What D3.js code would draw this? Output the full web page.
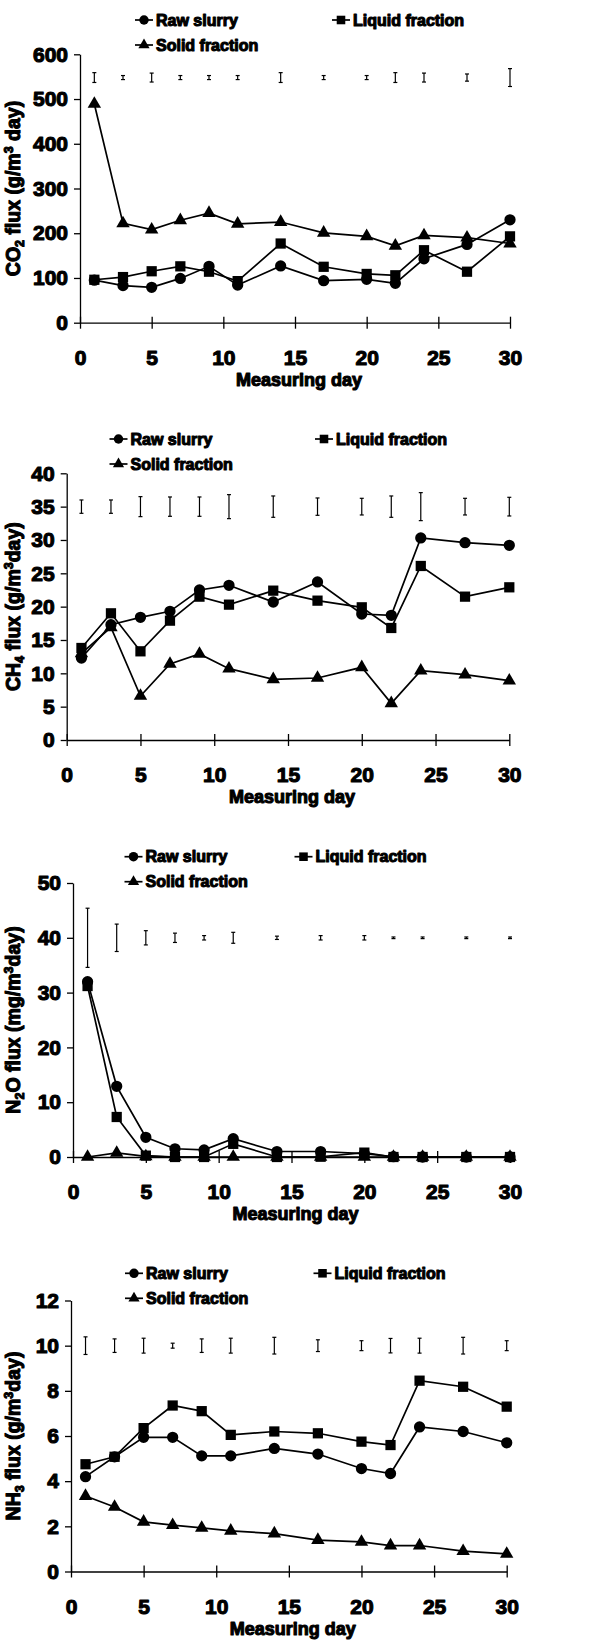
<!DOCTYPE html>
<html>
<head>
<meta charset="utf-8">
<script src="https://cdn.jsdelivr.net/npm/d3@7"></script>
<style>
body { margin: 0; background: #fff; }
text { font-family: "Liberation Sans", Arial, sans-serif; font-weight: bold; fill: #000; stroke: #000; stroke-width: 1.1; stroke-linejoin: round; }
</style>
</head>
<body>
<div id="chart"></div>
<script>
// measuring days and legend names
const days = [1, 3, 5, 7, 9, 11, 14, 17, 20, 22, 24, 27, 30];
const seriesNames = ["Raw slurry", "Liquid fraction", "Solid fraction"];
const xTicks = [0, 5, 10, 15, 20, 25, 30];

// CO2 flux (g/m3 day)
const co2Raw    = [95, 83, 79, 99, 126, 84, 127, 94, 97, 88, 143, 175, 230];
const co2Liquid = [96, 102, 115, 126, 114, 93, 177, 125, 109, 106, 162, 114, 193];
const co2Solid  = [489, 222, 208, 229, 245, 221, 225, 201, 193, 172, 195, 190, 177];
const co2ErrMid = 548;
const co2Err    = [11, 4.5, 10, 4.5, 4.5, 4.5, 11, 4.5, 4.5, 11, 10, 8, 20];
const co2Ticks  = [0, 100, 200, 300, 400, 500, 600];

// CH4 flux (g/m3 day)
const ch4Raw    = [12.3, 17.3, 18.4, 19.3, 22.5, 23.2, 20.7, 23.7, 18.9, 18.7, 30.3, 29.6, 29.2];
const ch4Liquid = [13.8, 19.0, 13.3, 17.9, 21.5, 20.3, 22.4, 20.9, 19.9, 16.8, 26.1, 21.5, 22.9];
const ch4Solid  = [13.0, 16.9, 6.6, 11.4, 12.9, 10.7, 9.1, 9.3, 10.9, 5.5, 10.4, 9.8, 8.9];
const ch4ErrMid = 35;
const ch4Err    = [1.0, 1.0, 1.5, 1.45, 1.45, 1.8, 1.6, 1.3, 1.25, 1.6, 2.1, 1.25, 1.4];
const ch4Ticks  = [0, 5, 10, 15, 20, 25, 30, 35, 40];

// N2O flux (mg/m3 day)
const n2oRaw    = [32, 12.9, 3.6, 1.5, 1.3, 3.35, 1.0, 1.0, 0.6, 0.05, 0, 0, 0];
const n2oLiquid = [31.2, 7.3, 0.25, 0, 0, 2.4, 0, 0.05, 0.8, 0, 0, 0, 0];
const n2oSolid  = [0, 0.75, 0.1, 0, 0, 0, 0, 0, 0, 0, 0, 0, 0];
const n2oErrMid = 40;
const n2oErr    = [5.4, 2.5, 1.3, 0.85, 0.4, 1.0, 0.3, 0.4, 0.4, 0.15, 0.15, 0.15, 0.15];
const n2oTicks  = [0, 10, 20, 30, 40, 50];

// NH3 flux (g/m3 day)
const nh3Raw    = [4.2, 5.08, 5.94, 5.94, 5.12, 5.12, 5.45, 5.2, 4.56, 4.34, 6.4, 6.2, 5.7];
const nh3Liquid = [4.75, 5.08, 6.35, 7.35, 7.1, 6.05, 6.2, 6.12, 5.75, 5.6, 8.45, 8.18, 7.3];
const nh3Solid  = [3.34, 2.86, 2.2, 2.05, 1.93, 1.8, 1.68, 1.39, 1.31, 1.15, 1.15, 0.9, 0.78];
const nh3ErrMid = 10;
const nh3Err    = [0.39, 0.3, 0.33, 0.11, 0.3, 0.33, 0.37, 0.26, 0.22, 0.32, 0.33, 0.37, 0.22];
const nh3Ticks  = [0, 2, 4, 6, 8, 10, 12];

// layout of each panel (pixels)
const panels = [
  { series: [co2Raw, co2Liquid, co2Solid], err: co2Err, errMid: co2ErrMid, ticks: co2Ticks,
    label: [["CO", 0], ["2", 1], [" flux (g/m", 0], ["3", -1], [" day)", 0]],
    top: 54.3, bottom: 322.7, left: 80, right: 510, legY: 20, legX: [144, 341] },
  { series: [ch4Raw, ch4Liquid, ch4Solid], err: ch4Err, errMid: ch4ErrMid, ticks: ch4Ticks,
    label: [["CH", 0], ["4", 1], [" flux (g/m", 0], ["3", -1], ["day)", 0]],
    top: 473.3, bottom: 740, left: 66.7, right: 509.3, legY: 439, legX: [118.5, 324] },
  { series: [n2oRaw, n2oLiquid, n2oSolid], err: n2oErr, errMid: n2oErrMid, ticks: n2oTicks,
    label: [["N", 0], ["2", 1], ["O flux (mg/m", 0], ["3", -1], ["day)", 0]],
    top: 883, bottom: 1157, left: 73, right: 510, legY: 856.7, legX: [133.5, 303.5] },
  { series: [nh3Raw, nh3Liquid, nh3Solid], err: nh3Err, errMid: nh3ErrMid, ticks: nh3Ticks,
    label: [["NH", 0], ["3", 1], [" flux (g/m", 0], ["3", -1], ["day)", 0]],
    top: 1300.5, bottom: 1571.5, left: 71, right: 506.7, legY: 1273.3, legX: [134, 322.5] }
];

const symbols = [d3.symbolCircle, d3.symbolSquare, d3.symbolTriangle];
const symSize = [100, 105, 78];

const svg = d3.select("#chart").append("svg")
  .attr("width", 610)
  .attr("height", 1642);

panels.forEach(p => {
  const yMax = p.ticks[p.ticks.length - 1];
  const x = d3.scaleLinear().domain([0, 30]).range([p.left, p.right]);
  const y = d3.scaleLinear().domain([0, yMax]).range([p.bottom, p.top]);
  const g = svg.append("g");

  // y axis
  const ya = g.append("g")
    .attr("transform", `translate(${p.left},0)`)
    .call(d3.axisLeft(y).tickValues(p.ticks).tickSize(6).tickSizeOuter(0).tickPadding(6));
  ya.selectAll("text").attr("font-size", 21).attr("font-family", null).attr("fill", null);

  // x axis with crossing ticks, labels set low
  const xa = g.append("g")
    .attr("transform", `translate(0,${p.bottom})`)
    .call(d3.axisBottom(x).tickValues(xTicks).tickSize(6).tickSizeOuter(0));
  xa.selectAll(".tick line").attr("y1", -6).attr("y2", 6);
  xa.selectAll("text").attr("font-size", 21).attr("font-family", null).attr("fill", null)
    .attr("y", 35).attr("dy", "0.35em");
  g.selectAll(".domain, .tick line").attr("stroke", "#000").attr("stroke-width", 1.3);

  g.append("text")
    .attr("x", (p.left + p.right) / 2 + 4)
    .attr("y", p.bottom + 57)
    .attr("dy", "0.35em")
    .attr("text-anchor", "middle")
    .attr("font-size", 18)
    .text("Measuring day");

  // y axis title
  const yt = g.append("text")
    .attr("transform", `translate(20,${(p.top + p.bottom) / 2}) rotate(-90)`)
    .attr("text-anchor", "middle")
    .attr("dy", "0.35em")
    .attr("font-size", 19.5);
  let shift = 0;
  p.label.forEach(([s, pos]) => {
    const off = pos === 1 ? 4 : pos === -1 ? -7 : 0;
    yt.append("tspan")
      .attr("dy", off - shift)
      .attr("font-size", pos === 0 ? null : 12.5)
      .text(s);
    shift = off;
  });

  // error bars
  const eb = g.append("g").attr("stroke", "#000").attr("stroke-width", 1.2);
  days.forEach((d, i) => {
    const y0 = y(p.errMid - p.err[i]), y1 = y(p.errMid + p.err[i]);
    eb.append("line").attr("x1", x(d)).attr("x2", x(d)).attr("y1", y0).attr("y2", y1);
    eb.append("line").attr("x1", x(d) - 2).attr("x2", x(d) + 2).attr("y1", y0).attr("y2", y0);
    eb.append("line").attr("x1", x(d) - 2).attr("x2", x(d) + 2).attr("y1", y1).attr("y2", y1);
  });

  // series lines and markers
  const line = d3.line().x(d => x(d[0])).y(d => y(d[1]));
  p.series.forEach((vals, k) => {
    const pts = days.map((d, i) => [d, vals[i]]);
    g.append("path")
      .attr("d", line(pts))
      .attr("fill", "none")
      .attr("stroke", "#000")
      .attr("stroke-width", 1.7);
    g.selectAll(null)
      .data(pts)
      .enter().append("path")
      .attr("d", d3.symbol().type(symbols[k]).size(symSize[k]))
      .attr("transform", d => `translate(${x(d[0])},${y(d[1])})`)
      .attr("fill", "#000");
  });

  // legend
  const legPos = [[p.legX[0], p.legY], [p.legX[1], p.legY], [p.legX[0], p.legY + 25]];
  seriesNames.forEach((name, k) => {
    const [lx, ly] = legPos[k];
    g.append("line")
      .attr("x1", lx - 9).attr("x2", lx + 9)
      .attr("y1", ly).attr("y2", ly)
      .attr("stroke", "#000").attr("stroke-width", 1.7);
    g.append("path")
      .attr("d", d3.symbol().type(symbols[k]).size(symSize[k] * 0.7))
      .attr("transform", `translate(${lx},${ly})`)
      .attr("fill", "#000");
    g.append("text")
      .attr("x", lx + 12)
      .attr("y", ly)
      .attr("dy", "0.35em")
      .attr("font-size", 16)
      .text(name);
  });
});
</script>
</body>
</html>
